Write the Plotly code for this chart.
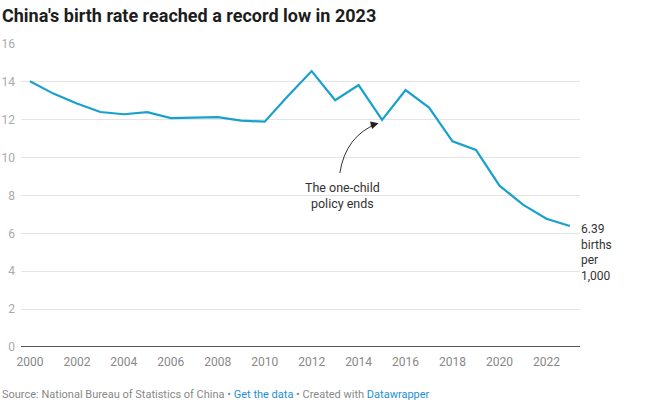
import plotly.graph_objects as go

years = list(range(2000, 2024))
birth_rate = [14.03, 13.38, 12.86, 12.41, 12.29, 12.40, 12.09, 12.10, 12.14, 11.95,
              11.90, 13.27, 14.57, 13.03, 13.83, 11.99, 13.57, 12.64, 10.86, 10.41,
              8.52, 7.52, 6.77, 6.39]
x_ticks = list(range(2000, 2024, 2))
y_ticks = [0, 2, 4, 6, 8, 10, 12, 14, 16]

title = "China's birth rate reached a record low in 2023"
note_text = "The one-child<br>policy ends"
end_label = "6.39<br>births<br>per<br>1,000"

LINE = "#18a1cd"
FONT = "Roboto"

fig = go.Figure()
fig.add_trace(go.Scatter(x=years, y=birth_rate, mode="lines",
                         line=dict(color=LINE, width=2.2), hoverinfo="skip",
                         showlegend=False))

fig.update_layout(
    width=645, height=419,
    margin=dict(l=21, r=65, t=44, b=72, autoexpand=False),
    paper_bgcolor="white", plot_bgcolor="white",
    font=dict(family=FONT, size=12, color="#333"),
    title=dict(text="<b>" + title + "</b>", x=0.003, xanchor="left", y=0.962, yanchor="middle",
               font=dict(family=FONT, size=18, color="#1d1d1d")),
    xaxis=dict(range=[1999.62, 2023.43], tickvals=x_ticks, showgrid=False,
               zeroline=False, showline=False, ticks="", automargin=False,
               ticklabelstandoff=6,
               tickfont=dict(family=FONT, size=12, color="#888"), fixedrange=True),
    yaxis=dict(range=[0, 16], tickvals=y_ticks, showgrid=True, gridcolor="#e4e4e4",
               gridwidth=1, zeroline=False, showline=False, ticks="", automargin=False,
               ticklabelstandoff=5,
               tickfont=dict(family=FONT, size=12, color="#aaa"), fixedrange=True),
    showlegend=False,
)

# Baseline at 0
fig.add_shape(type="line", xref="paper", yref="y", x0=0, x1=1, y0=0, y1=0,
              line=dict(color="#222", width=1.5))

# Curved annotation arrow
x0, y0 = 2013.20, 9.19
cx, cy = 2013.45, 11.15
x1, y1 = 2014.80, 11.80
fig.add_shape(type="path", xref="x", yref="y",
              path=f"M {x0},{y0} Q {cx},{cy} {x1},{y1}",
              line=dict(color="#333", width=1))
fig.add_annotation(x=x1 + 0.05, y=y1 + 0.02, ax=x1 - 0.35, ay=y1 - 0.12,
                   xref="x", yref="y", axref="x", ayref="y", text="",
                   showarrow=True, arrowhead=2, arrowsize=1.3, arrowwidth=1.2,
                   arrowcolor="#222")

fig.add_annotation(x=2013.30, y=8.92, xref="x", yref="y", text=note_text,
                   showarrow=False, xanchor="center", yanchor="top", align="center",
                   font=dict(family=FONT, size=12.5, color="#333"))

fig.add_annotation(x=1, y=6.69, xref="paper", yref="y", text=end_label,
                   showarrow=False, xanchor="left", yanchor="top", align="left",
                   xshift=-1, font=dict(family=FONT, size=12, color="#333"))

footer = ("Source: National Bureau of Statistics of China • "
          "<span style='color:#1d8fd6'>Get the data</span> • Created with "
          "<span style='color:#1d8fd6'>Datawrapper</span>")
fig.add_annotation(x=0, y=0, xref="paper", yref="paper", yshift=-47, xshift=-21,
                   text=footer, showarrow=False, xanchor="left", yanchor="middle",
                   font=dict(family=FONT, size=11, color="#888"))

fig.write_html("out.html", config={"displayModeBar": False},
               post_script="document.body.style.margin='0';")
